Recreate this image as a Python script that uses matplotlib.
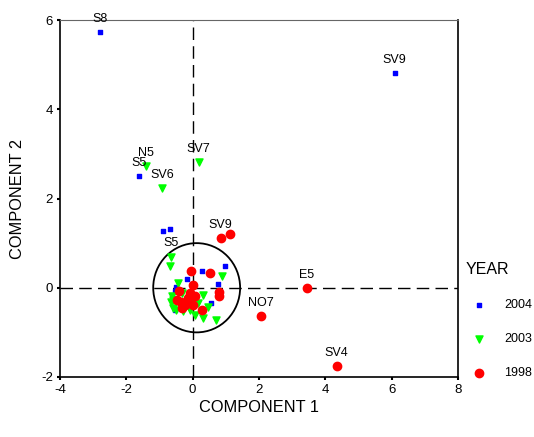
import matplotlib
matplotlib.use("Agg")
import matplotlib.pyplot as plt
from matplotlib.patches import Ellipse

plt.rcParams["font.family"] = ["Liberation Sans", "DejaVu Sans"]
plt.rcParams["axes.unicode_minus"] = False

# component scores per sampling year
x_2004 = [-2.80, 6.09, -1.63, -0.90, -0.69, 0.29, 0.96, 0.76, -0.16, -0.49, -0.52, 0.56, 0.01, -0.54]
y_2004 = [5.73, 4.81, 2.51, 1.28, 1.32, 0.37, 0.48, 0.08, 0.20, 0.02, -0.08, -0.34, -0.33, -0.49]
lab_2004 = ["S8", "SV9", "S5", "", "", "", "", "", "", "", "", "", "", ""]

x_2003 = [0.18, -1.42, -0.93, -0.66, -0.69, 0.89, -0.44, -0.31, -0.61, 0.31, -0.59, -0.09, 0.16,
          0.46, -0.59, -0.49, 0.06, 0.31, 0.69, -0.09, -0.29, -0.64]
y_2003 = [2.82, 2.73, 2.24, 0.70, 0.48, 0.27, 0.10, -0.12, -0.19, -0.16, -0.27, -0.34, -0.34,
          -0.43, -0.45, -0.49, -0.60, -0.68, -0.72, -0.49, -0.53, -0.31]
lab_2003 = ["SV7", "N5", "SV6", "S5"] + [""] * 18

x_1998 = [3.44, 4.34, 2.05, 0.84, 1.12, -0.04, 0.53, 0.01, 0.78, 0.78, -0.42, -0.09, -0.34,
          -0.24, -0.31, 0.01, 0.29, 0.06, -0.46, -0.14]
y_1998 = [0.00, -1.75, -0.63, 1.12, 1.21, 0.37, 0.34, 0.07, -0.10, -0.19, -0.08, -0.12, -0.31,
          -0.38, -0.45, -0.38, -0.49, -0.19, -0.27, -0.23]
lab_1998 = ["E5", "SV4", "NO7", "SV9"] + [""] * 16

fig = plt.figure(figsize=(5.34, 4.37), dpi=100)
ax = fig.add_axes([0.1124, 0.1373, 0.7453, 0.8169])

ax.axhline(0, color="black", lw=1, ls=(0, (9, 4.5)), zorder=1)
ax.axvline(0, color="black", lw=1, ls=(0, (9, 4.5)), zorder=1)
ax.add_patch(Ellipse((0.12, 0), 2.62, 2.0, fill=False, ec="black", lw=1.3, zorder=2))

ax.scatter(x_2004, y_2004, marker="s", s=10, color="#0000ff", label="2004", zorder=3)
ax.scatter(x_2003, y_2003, marker="v", s=26, color="#00ff00", label="2003", zorder=3)
ax.scatter(x_1998, y_1998, marker="o", s=36, color="#ff0000", label="1998", zorder=4)

for xs, ys, labs in [(x_2004, y_2004, lab_2004), (x_2003, y_2003, lab_2003), (x_1998, y_1998, lab_1998)]:
    for xv, yv, t in zip(xs, ys, labs):
        if t:
            ax.annotate(t, (xv, yv), xytext=(0, 9.5), textcoords="offset points",
                        ha="center", va="center", fontsize=9)

ax.set_xlim(-4, 8)
ax.set_ylim(-2, 6)
ax.set_xticks(range(-4, 9, 2))
ax.set_yticks(range(-2, 7, 2))
ax.tick_params(direction="out", length=2, width=1.5, labelsize=9.5, pad=3)
ax.spines["top"].set_color("#666666")
for s in ["left", "bottom", "right"]:
    ax.spines[s].set_linewidth(1.2)

ax.set_xlabel("COMPONENT 1", fontsize=11.8, labelpad=3)
ax.set_ylabel("COMPONENT 2", fontsize=11.8, labelpad=12)

leg = fig.legend(loc="upper left", bbox_to_anchor=(0.872, 0.400), frameon=False, title="YEAR",
                 fontsize=9, title_fontsize=11.5, labelspacing=1.75, handlelength=2.1,
                 handletextpad=1.0, borderaxespad=0.0, borderpad=0.0)
leg._legend_box.align = "left"

fig.savefig("out.png", dpi=100)
